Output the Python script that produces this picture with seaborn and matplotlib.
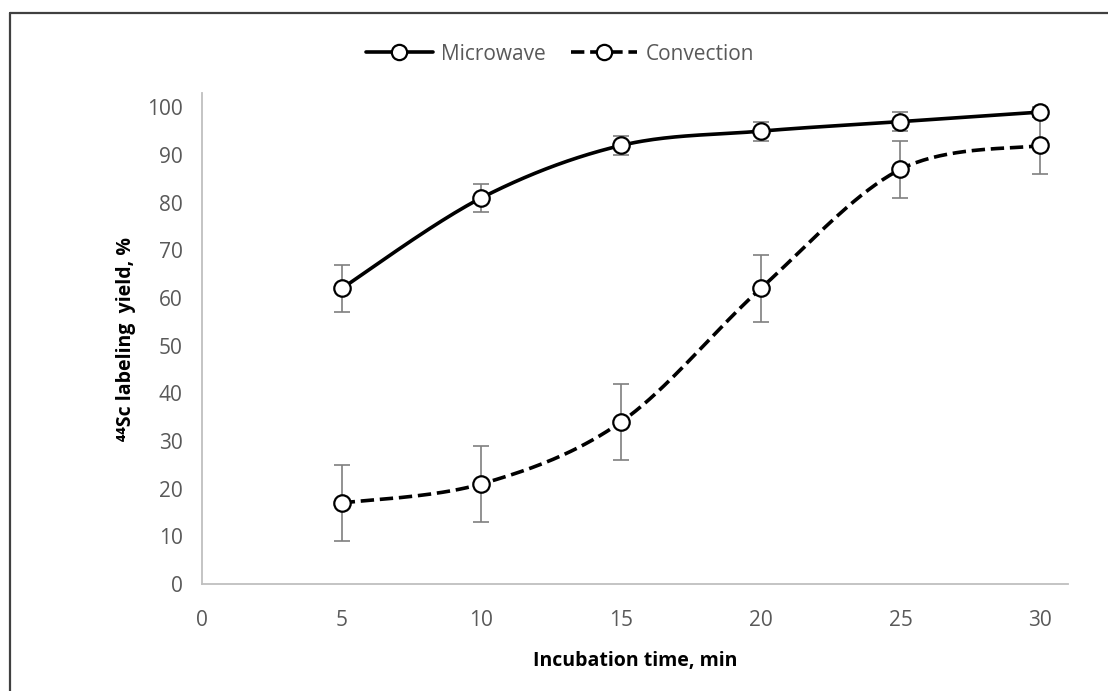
import numpy as np
import pandas as pd
import matplotlib
matplotlib.use("Agg")
import matplotlib.pyplot as plt
from matplotlib.lines import Line2D
import seaborn as sns

time_min = [5, 10, 15, 20, 25, 30]
microwave = [62, 81, 92, 95, 97, 99]
microwave_err = [5, 3, 2, 2, 2, 1]
convection = [17, 21, 34, 62, 87, 92]
convection_err = [8, 8, 8, 7, 6, 6]
x_ticks = [0, 5, 10, 15, 20, 25, 30]
y_ticks = [0, 10, 20, 30, 40, 50, 60, 70, 80, 90, 100]

sns.set_theme(style="white")
plt.rcParams['font.family'] = ['Open Sans', 'DejaVu Sans']


def smooth(xs, ys, n=40):
    xs = np.asarray(xs, float)
    ys = np.asarray(ys, float)
    px = np.concatenate([[xs[0]], xs, [xs[-1]]])
    py = np.concatenate([[ys[0]], ys, [ys[-1]]])
    ox, oy = [], []
    t = np.linspace(0, 1, n)
    for i in range(1, len(px) - 2):
        p0x, p1x, p2x, p3x = px[i - 1], px[i], px[i + 1], px[i + 2]
        p0y, p1y, p2y, p3y = py[i - 1], py[i], py[i + 1], py[i + 2]
        c1x = p1x + (p2x - p0x) / 6
        c1y = p1y + (p2y - p0y) / 6
        c2x = p2x - (p3x - p1x) / 6
        c2y = p2y - (p3y - p1y) / 6
        bx = (1 - t) ** 3 * p1x + 3 * (1 - t) ** 2 * t * c1x + 3 * (1 - t) * t ** 2 * c2x + t ** 3 * p2x
        by = (1 - t) ** 3 * p1y + 3 * (1 - t) ** 2 * t * c1y + 3 * (1 - t) * t ** 2 * c2y + t ** 3 * p2y
        ox.extend(bx)
        oy.extend(by)
    return np.array(ox), np.array(oy)


fig = plt.figure(figsize=(11.08, 6.91), dpi=100)
ax = fig.add_axes([0.1823, 0.1548, 0.7817, 0.7106])

series = [("Microwave", microwave, microwave_err, "-"),
          ("Convection", convection, convection_err, "--")]

for name, vals, errs, ls in series:
    sx, sy = smooth(time_min, vals)
    df_s = pd.DataFrame({"x": sx, "y": sy})
    sns.lineplot(data=df_s, x="x", y="y", ax=ax, color="black", lw=2.6,
                 linestyle=ls, sort=False, estimator=None)
    ax.errorbar(time_min, vals, yerr=errs, fmt="none", ecolor="#7f7f7f",
                elinewidth=1.2, capsize=6, capthick=1.2, zorder=2)
    df_p = pd.DataFrame({"x": time_min, "y": vals})
    sns.scatterplot(data=df_p, x="x", y="y", ax=ax, s=140, color="white",
                    edgecolor="black", linewidth=1.6, zorder=5)

ax.set_xlim(0, 31)
ax.set_ylim(0, 103)
ax.set_xticks(x_ticks)
ax.set_yticks(y_ticks)
for s in ["top", "right"]:
    ax.spines[s].set_visible(False)
for s in ["left", "bottom"]:
    ax.spines[s].set_color("#bfbfbf")
    ax.spines[s].set_linewidth(1.3)
ax.tick_params(axis="both", direction="in", length=8, width=1.2,
               color="#bfbfbf", labelcolor="#595959", labelsize=15)
ax.tick_params(axis="x", pad=19)
ax.tick_params(axis="y", pad=14)

ax.set_xlabel("Incubation time, min", fontsize=14, fontweight="bold",
              color="black", labelpad=14)
ax.set_ylabel("⁴⁴Sc labeling  yield, %", fontsize=14, fontweight="bold",
              color="black", labelpad=8)

handles = [Line2D([], [], color="black", lw=2.6, ls="-", marker="o", ms=11,
                  mfc="white", mec="black", mew=1.6),
           Line2D([], [], color="black", lw=2.6, ls="--", marker="o", ms=11,
                  mfc="white", mec="black", mew=1.6)]
leg = fig.legend(handles, ["Microwave", "Convection"], loc="center",
                 bbox_to_anchor=(560 / 1108, 1 - 54 / 691), ncol=2,
                 frameon=False, fontsize=15, handlelength=3.2,
                 columnspacing=1.2, handletextpad=0.4)
for t in leg.get_texts():
    t.set_color("#595959")

fig.add_artist(Line2D([9.5 / 1108, 1.0], [1 - 13 / 691, 1 - 13 / 691],
                      transform=fig.transFigure, color="#404040", lw=1.6))
fig.add_artist(Line2D([9.5 / 1108, 9.5 / 1108], [0, 1 - 13 / 691],
                      transform=fig.transFigure, color="#404040", lw=1.6))

fig.savefig("out.png", dpi=100, facecolor="white")
